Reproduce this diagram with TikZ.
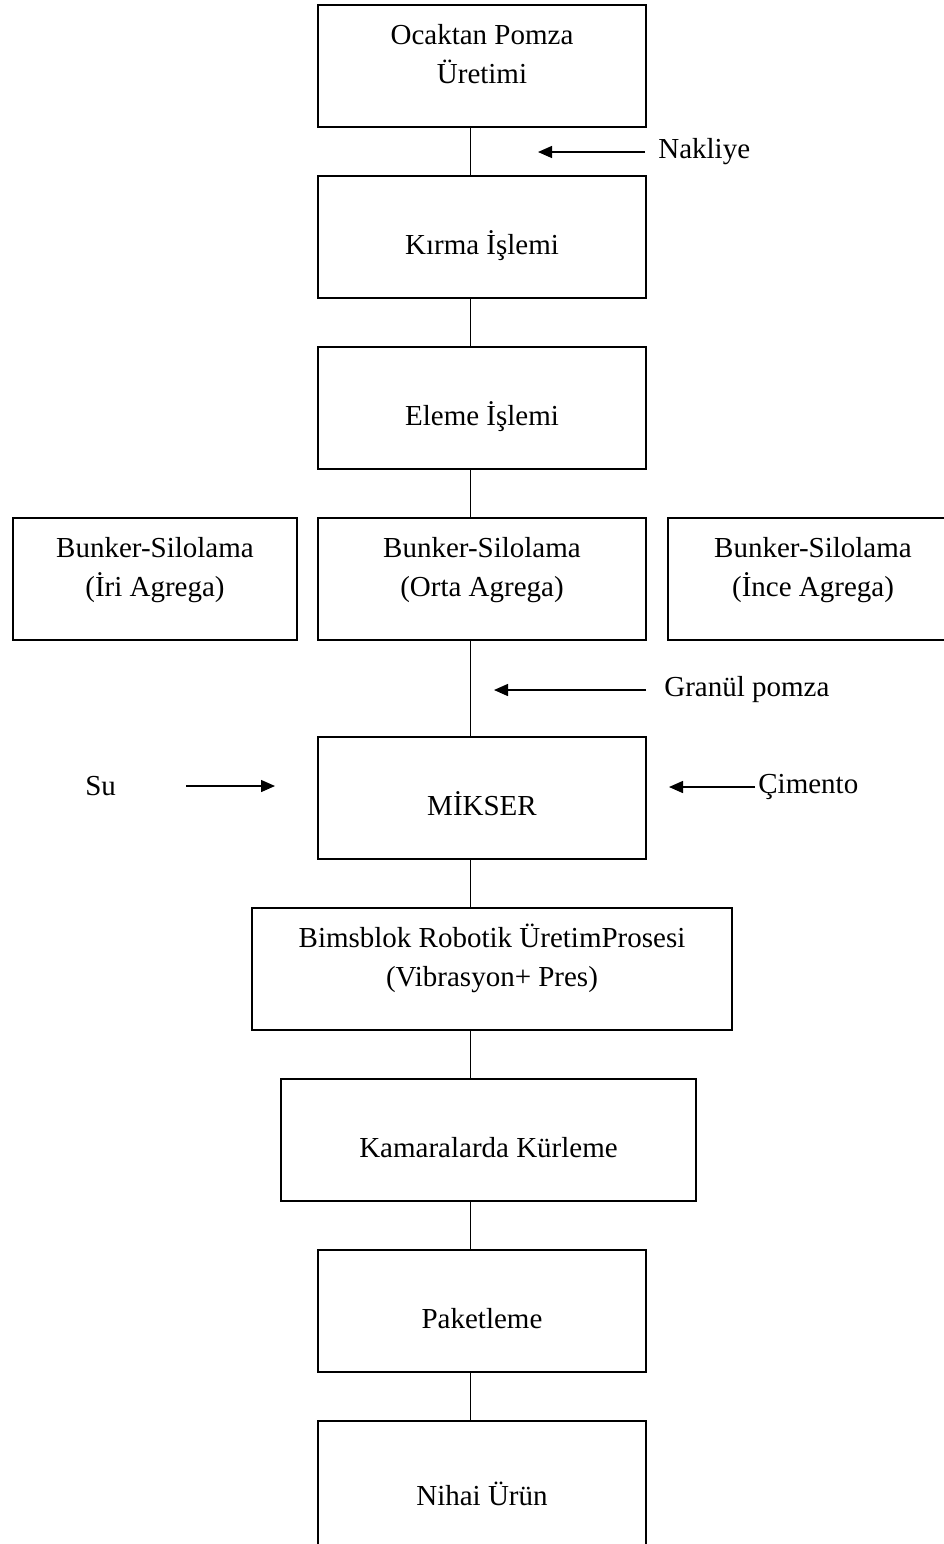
\documentclass[tikz,border=0pt]{standalone}
\usepackage{fontspec}
\setmainfont{Liberation Serif}
\usetikzlibrary{positioning,arrows.meta}

\begin{document}
\begin{tikzpicture}[
  font=\fontsize{16.5pt}{22pt}\selectfont,
  process/.style = {
    rectangle, draw=black, line width=1pt, align=center,
    minimum width=6.56cm, minimum height=2.44cm, inner sep=0pt, outer sep=0pt,
    text height=0.78cm, text depth=0.1cm,
  },
  link/.style = {draw=black, line width=0.8pt},
  feed/.style = {-{Triangle[length=0.28cm,width=0.24cm]}, line width=0.8pt, draw=black},
  input/.style = {anchor=west, inner sep=0pt},
  node distance=0.98cm and 0.42cm,
]
  \useasboundingbox (0,0) rectangle (18.88,-30.88);

  \node[process] (ocak) at (9.64,-1.32) {Ocaktan Pomza\\Üretimi};
  \node[process, below=of ocak] (kirma) {Kırma İşlemi};
  \node[process, below=of kirma] (eleme) {Eleme İşlemi};
  \node[process, below=of eleme] (orta) {Bunker-Silolama\\(Orta Agrega)};
  \node[process, left=of orta, minimum width=5.68cm] (iri) {Bunker-Silolama\\(İri Agrega)};
  \node[process, right=0.44cm of orta, minimum width=5.8cm] (ince) {Bunker-Silolama\\(İnce Agrega)};
  \node[process, below=1.94cm of orta] (mikser) {MİKSER};
  \node[process, below=of mikser, xshift=0.2cm, minimum width=9.6cm] (bims)
    {Bimsblok Robotik ÜretimProsesi\\(Vibrasyon+ Pres)};
  \node[process, below=of bims, xshift=-0.07cm, minimum width=8.3cm] (kamara) {Kamaralarda Kürleme};
  \node[process, below=of kamara, xshift=-0.13cm] (paket) {Paketleme};
  \node[process, below=of paket, minimum height=2.7cm] (nihai) {Nihai Ürün};

  % main line, a little left of the box centres
  \coordinate (spine) at (9.41,0);
  \draw[link] (ocak.south -| spine) -- (kirma.north -| spine);
  \draw[link] (kirma.south -| spine) -- (eleme.north -| spine);
  \draw[link] (eleme.south -| spine) -- (orta.north -| spine);
  \draw[link] (orta.south -| spine) -- (mikser.north -| spine);
  \draw[link] (mikser.south -| spine) -- (bims.north -| spine);
  \draw[link] (bims.south -| spine) -- (kamara.north -| spine);
  \draw[link] (kamara.south -| spine) -- (paket.north -| spine);
  \draw[link] (paket.south -| spine) -- (nihai.north -| spine);

  % inputs
  \node[input] (nakliye) at (13.16,-3.04) {Nakliye};
  \coordinate (nakliyeTip) at (10.76,-3.04);
  \draw[feed] ([xshift=-0.26cm]nakliye.west) -- (nakliyeTip);

  \node[input] (granul) at (13.28,-13.8) {Granül pomza};
  \coordinate (granulTip) at (9.88,-13.8);
  \draw[feed] ([xshift=-0.36cm]granul.west) -- (granulTip);

  \node[input] (cimento) at (15.16,-15.74) {Çimento};
  \coordinate (cimentoTip) at (13.38,-15.74);
  \draw[feed] ([xshift=-0.06cm]cimento.west) -- (cimentoTip);

  \node[input] (su) at (1.7,-15.72) {Su};
  \coordinate (suTip) at (5.5,-15.72);
  \draw[feed] ([xshift=1.4cm]su.east) -- (suTip);
\end{tikzpicture}
\end{document}
